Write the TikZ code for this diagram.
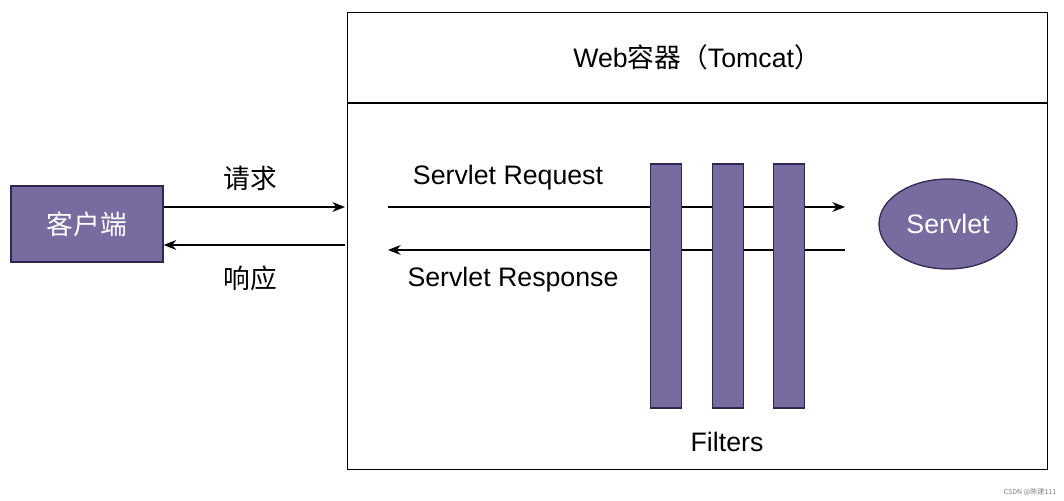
\documentclass[tikz,border=0pt]{standalone}
\usepackage{fontspec}
\setmainfont{Liberation Sans}
\newfontfamily\cjk{Noto Sans CJK SC}
\usetikzlibrary{arrows.meta,shapes.geometric}
\definecolor{pfill}{HTML}{776BA0}
\definecolor{pline}{HTML}{2E2750}
\begin{document}
\begin{tikzpicture}[x=0.025cm,y=-0.025cm,
  box/.style={draw=pline,fill=pfill,line width=0.9pt},
  arr/.style={-{Stealth[length=9pt,width=7pt]},line width=0.9pt},
  lbl/.style={font=\fontsize{19}{22}\selectfont},
  clbl/.style={font=\cjk\fontsize{19}{22}\selectfont}]
\useasboundingbox (0,0) rectangle (1064,500);
\fill[white] (0,0) rectangle (1064,500);
% container
\node[draw,line width=0.9pt,minimum width=700*0.025cm,minimum height=457*0.025cm,anchor=north west,inner sep=0] (cont) at (347,12) {};
\coordinate (sl) at (347,103); \coordinate (sr) at (1047,103);
\draw[line width=0.9pt] (sl) -- (sr);
\node[font=\fontsize{19}{22}\selectfont] (title) at (697,57) {Web{\cjk 容器（}Tomcat{\cjk ）}};
% client
\node[box,minimum width=152*0.025cm,minimum height=76*0.025cm,text=white,font=\cjk\fontsize{19}{22}\selectfont] (client) at (87,224) {客户端};
\coordinate (in1) at (345,207); \coordinate (in2) at (345,245);
\draw[arr] (client.east |- in1) -- (in1);
\draw[arr] (in2) -- (client.east |- in2);
\node[clbl] (req) at (250,178) {请求};
\node[clbl] (resp) at (250,278) {响应};
% servlet
\node[box,ellipse,minimum width=138*0.025cm,minimum height=90*0.025cm,text=white,font=\fontsize{19}{22}\selectfont] (servlet) at (948,224) {Servlet};
\coordinate (a1) at (388,207); \coordinate (b1) at (845,207);
\coordinate (a2) at (845,250); \coordinate (b2) at (388,250);
\draw[arr] (a1) -- (b1);
\draw[arr] (a2) -- (b2);
\node[lbl] (sreq) at (508,178) {Servlet Request};
\node[lbl] (sresp) at (513,280) {Servlet Response};
% filters
\foreach \x/\n in {666/f1,728/f2,789/f3}
  \node[box,minimum width=31*0.025cm,minimum height=244*0.025cm,inner sep=0] (\n) at (\x,286) {};
\node[lbl] (filters) at (727,442) {Filters};
\node[font=\cjk\fontsize{5}{6}\selectfont,text=gray] (wm) at (1030,492) {CSDN @陈建111};
\end{tikzpicture}
\end{document}
